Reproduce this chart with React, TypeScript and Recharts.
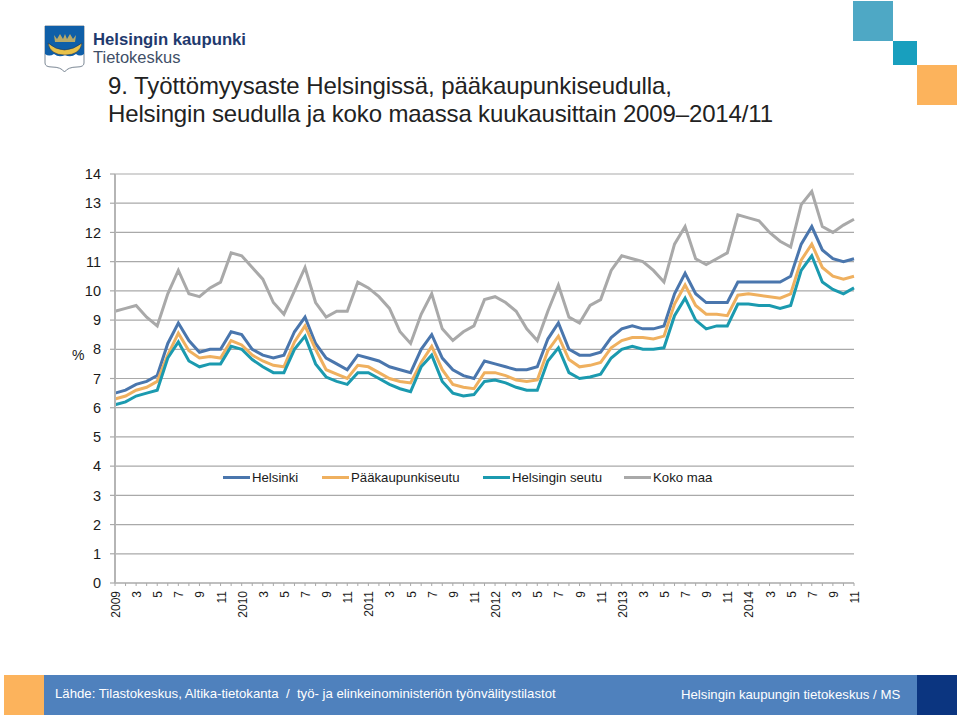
import React from "react";
import { LineChart, Line, XAxis, YAxis, CartesianGrid, Legend } from "recharts";

const monthLabels = [
  "2009","","3","","5","","7","","9","","11","",
  "2010","","3","","5","","7","","9","","11","",
  "2011","","3","","5","","7","","9","","11","",
  "2012","","3","","5","","7","","9","","11","",
  "2013","","3","","5","","7","","9","","11","",
  "2014","","3","","5","","7","","9","","11",
];
const helsinki = [
  6.5,6.6,6.8,6.9,7.1,8.2,8.9,8.3,7.9,8.0,8.0,8.6,
  8.5,8.0,7.8,7.7,7.8,8.6,9.1,8.2,7.7,7.5,7.3,7.8,
  7.7,7.6,7.4,7.3,7.2,8.0,8.5,7.7,7.3,7.1,7.0,7.6,
  7.5,7.4,7.3,7.3,7.4,8.35,8.9,8.0,7.8,7.8,7.9,8.4,
  8.7,8.8,8.7,8.7,8.8,9.9,10.6,9.9,9.6,9.6,9.6,10.3,
  10.3,10.3,10.3,10.3,10.5,11.6,12.2,11.4,11.1,11.0,11.1,
];
const paakaupunkiseutu = [
  6.3,6.4,6.6,6.7,6.9,7.8,8.55,7.95,7.7,7.75,7.7,8.3,
  8.15,7.8,7.6,7.45,7.4,8.25,8.8,8.0,7.3,7.15,7.0,7.45,
  7.4,7.2,7.0,6.9,6.85,7.55,8.1,7.3,6.8,6.7,6.65,7.2,
  7.2,7.1,6.95,6.9,6.95,7.95,8.45,7.65,7.4,7.45,7.55,8.05,
  8.3,8.4,8.4,8.35,8.45,9.55,10.2,9.5,9.2,9.2,9.15,9.85,
  9.9,9.85,9.8,9.75,9.9,11.05,11.6,10.8,10.5,10.4,10.5,
];
const helsinginSeutu = [
  6.1,6.2,6.4,6.5,6.6,7.7,8.25,7.6,7.4,7.5,7.5,8.1,
  8.0,7.65,7.4,7.2,7.2,8.0,8.45,7.5,7.05,6.9,6.8,7.2,
  7.2,7.0,6.8,6.65,6.55,7.4,7.8,6.9,6.5,6.4,6.45,6.9,
  6.95,6.85,6.7,6.6,6.6,7.6,8.05,7.2,7.0,7.05,7.15,7.7,
  8.0,8.1,8.0,8.0,8.05,9.15,9.75,9.0,8.7,8.8,8.8,9.55,
  9.55,9.5,9.5,9.4,9.5,10.7,11.2,10.3,10.05,9.9,10.1,
];
const kokoMaa = [
  9.3,9.4,9.5,9.1,8.8,9.9,10.7,9.9,9.8,10.1,10.3,11.3,
  11.2,10.8,10.4,9.6,9.2,10.0,10.8,9.6,9.1,9.3,9.3,10.3,
  10.1,9.8,9.4,8.6,8.2,9.2,9.9,8.7,8.3,8.6,8.8,9.7,
  9.8,9.6,9.3,8.7,8.3,9.3,10.2,9.1,8.9,9.5,9.7,10.7,
  11.2,11.1,11.0,10.7,10.3,11.6,12.2,11.1,10.9,11.1,11.3,12.6,
  12.5,12.4,12.0,11.7,11.5,12.95,13.4,12.2,12.0,12.25,12.45,
];
const yTicks = [0,1,2,3,4,5,6,7,8,9,10,11,12,13,14];

const chartData = monthLabels.map((label, idx) => ({
  idx,
  label,
  Helsinki: helsinki[idx],
  "Pääkaupunkiseutu": paakaupunkiseutu[idx],
  "Helsingin seutu": helsinginSeutu[idx],
  "Koko maa": kokoMaa[idx],
}));

const FONT = "'Liberation Sans', Arial, sans-serif";
const GRID = "#a9a9a9";

const XTick = (props: any) => {
  const { x, y, payload } = props;
  const text = monthLabels[payload.value];
  if (!text) return null;
  return (
    <text
      x={0}
      y={0}
      transform={`translate(${x + 5},${y + 3}) rotate(-90)`}
      textAnchor="end"
      fontSize={12}
      fontFamily={FONT}
      fill="#1a1a1a"
    >
      {text}
    </text>
  );
};

const legendLayout: Record<string, number> = {
  Helsinki: 223,
  "Pääkaupunkiseutu": 322,
  "Helsingin seutu": 483,
  "Koko maa": 624,
};

const LegendContent = (props: any) => (
  <div style={{ position: "relative", width: 960, height: 20, fontFamily: FONT, fontSize: 13.2, color: "#1a1a1a" }}>
    {(props.payload || []).map((e: any) => (
      <div key={e.value} style={{ position: "absolute", left: legendLayout[e.value], top: 0, display: "flex", alignItems: "center", height: 20, whiteSpace: "nowrap" }}>
        <div style={{ width: 27, height: 3, background: e.color, marginRight: 2 }} />
        <span>{e.value}</span>
      </div>
    ))}
  </div>
);

const Shield = () => (
  <svg width={42} height={48} viewBox="0 0 42 48" style={{ position: "absolute", left: 44, top: 25 }}>
    <path d="M1 1 H40 V38 Q40 42 33 42 Q24 42 20.5 47 Q17 42 8 42 Q1 42 1 38 Z" fill="#fff" stroke="#5a6a7a" strokeWidth={0.8} />
    <path d="M1 1 H40 V29 Q36 32 32 29 Q27 33 21 30 Q15 33 10 29 Q5 32 1 29 Z" fill="#0f5fa8" />
    <path d="M10 10 L13 14 L16 9 L19 14 L21 9 L23 14 L26 9 L29 14 L32 10 L31 17 H11 Z" fill="#b7a968" />
    <path d="M4 18 Q20 32 38 18 Q36 30 21 30 Q6 30 4 18 Z" fill="#e8c24a" stroke="#1f2a44" strokeWidth={0.5} />
  </svg>
);

export default function App() {
  return (
    <div style={{ position: "absolute", left: 0, top: 0, width: 960, height: 716, background: "#fff", overflow: "hidden", fontFamily: FONT }}>
      <Shield />
      <div style={{ position: "absolute", left: 93, top: 30, fontSize: 16.7, fontWeight: 700, color: "#1f3a6e", lineHeight: "20px", whiteSpace: "nowrap" }}>Helsingin kaupunki</div>
      <div style={{ position: "absolute", left: 93, top: 48, fontSize: 16.5, color: "#3f4f68", lineHeight: "18px", whiteSpace: "nowrap" }}>Tietokeskus</div>
      <div style={{ position: "absolute", left: 108, top: 72, fontSize: 24, color: "#222", lineHeight: "28px", whiteSpace: "nowrap" }}>
        <div style={{ letterSpacing: -0.08 }}>9. Työttömyysaste Helsingissä, pääkaupunkiseudulla,</div>
        <div style={{ letterSpacing: -0.14 }}>Helsingin seudulla ja koko maassa kuukausittain 2009–2014/11</div>
      </div>
      <div style={{ position: "absolute", left: 853, top: 1, width: 40, height: 40, background: "#4ea8c5" }} />
      <div style={{ position: "absolute", left: 893, top: 41, width: 24, height: 24, background: "#189fbe" }} />
      <div style={{ position: "absolute", left: 917, top: 65, width: 40, height: 40, background: "#fcb35c" }} />

      <div style={{ position: "absolute", left: 72, top: 347, fontSize: 14, color: "#1a1a1a" }}>%</div>

      <div style={{ position: "absolute", left: 0, top: 0 }}>
        <LineChart
          width={960}
          height={716}
          data={chartData}
          margin={{ top: 174, right: 106, bottom: 83, left: 75 }}
        >
          <CartesianGrid horizontal vertical={false} stroke={GRID} strokeWidth={1.2} />
          <XAxis
            dataKey="idx"
            type="category"
            interval={0}
            height={50}
            tick={<XTick />}
            tickLine={{ stroke: GRID, strokeWidth: 1 }}
            tickSize={3}
            axisLine={{ stroke: GRID, strokeWidth: 1.2 }}
          />
          <YAxis
            width={40}
            domain={[0, 14]}
            ticks={yTicks}
            interval={0}
            tickSize={5}
            tickMargin={9}
            tick={{ fontSize: 14.5, fontFamily: FONT, fill: "#1a1a1a" }}
            tickLine={{ stroke: GRID, strokeWidth: 1.2 }}
            axisLine={{ stroke: "#b5b5b5", strokeWidth: 2 }}
          />
          <Legend
            verticalAlign="middle"
            content={<LegendContent />}
            wrapperStyle={{ position: "absolute", left: 0, top: 467, width: 960, height: 20 }}
          />
          <Line dataKey="Helsinki" stroke="#4a76ad" strokeWidth={3} dot={false} isAnimationActive={false} strokeLinejoin="miter" />
          <Line dataKey="Pääkaupunkiseutu" stroke="#efb05f" strokeWidth={3} dot={false} isAnimationActive={false} strokeLinejoin="miter" />
          <Line dataKey="Helsingin seutu" stroke="#1b9aaf" strokeWidth={3} dot={false} isAnimationActive={false} strokeLinejoin="miter" />
          <Line dataKey="Koko maa" stroke="#a9a9a9" strokeWidth={3} dot={false} isAnimationActive={false} strokeLinejoin="miter" />
        </LineChart>
      </div>

      <div style={{ position: "absolute", left: 4, top: 675, width: 950, height: 40, background: "#4f81bd" }} />
      <div style={{ position: "absolute", left: 4, top: 675, width: 40, height: 40, background: "#fcb35c" }} />
      <div style={{ position: "absolute", left: 917, top: 675, width: 40, height: 40, background: "#0b3580" }} />
      <div style={{ position: "absolute", left: 55, top: 686, fontSize: 13.2, color: "#fff", whiteSpace: "pre" }}>
        {"Lähde: Tilastokeskus, Altika-tietokanta  /  työ- ja elinkeinoministeriön työnvälitystilastot"}
      </div>
      <div style={{ position: "absolute", left: 681, top: 687, fontSize: 13.2, color: "#fff", whiteSpace: "nowrap" }}>
        Helsingin kaupungin tietokeskus / MS
      </div>
    </div>
  );
}
